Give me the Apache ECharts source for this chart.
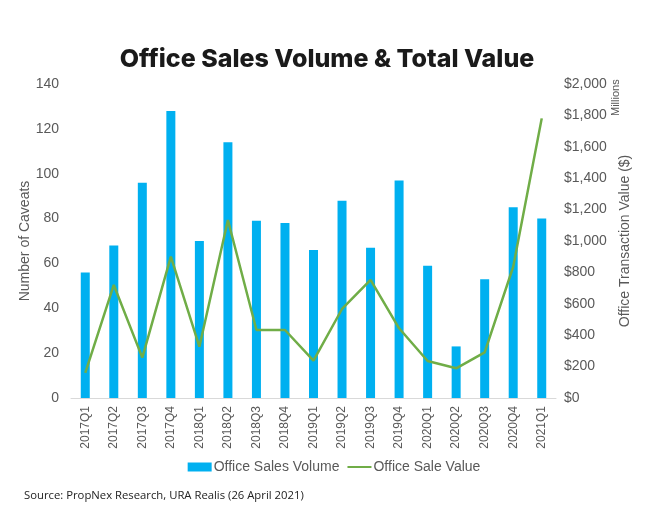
<!DOCTYPE html>
<html><head><meta charset="utf-8">
<script src="https://cdn.jsdelivr.net/npm/echarts@6/dist/echarts.min.js"></script>
<style>html,body{margin:0;padding:0;background:#fff}#c{width:668px;height:526px}</style>
</head><body><div id="c"></div>
<script>
const categories = ['2017Q1','2017Q2','2017Q3','2017Q4','2018Q1','2018Q2','2018Q3','2018Q4','2019Q1','2019Q2','2019Q3','2019Q4','2020Q1','2020Q2','2020Q3','2020Q4','2021Q1'];
const salesVolume = [56, 68, 96, 128, 70, 114, 79, 78, 66, 88, 67, 97, 59, 23, 53, 85, 80];
const saleValue = [160, 720, 257, 900, 327, 1134, 433, 433, 238, 567, 752, 444, 236, 189, 291, 836, 1781];
const leftTicks = [0, 140, 20];
const rightTicks = [0, 2000, 200];

const chart = echarts.init(document.getElementById('c'), null, {renderer: 'canvas'});
const gray = '#595959';
chart.setOption({
  animation: false,
  backgroundColor: '#fff',
  title: {
    text: 'Office Sales Volume & Total Value',
    left: 322, top: 42, textAlign: 'center',
    textStyle: {fontFamily: 'Inter', fontWeight: 800, fontSize: 25, color: '#1a1a1a'}
  },
  legend: {
    bottom: 47, left: 'center',
    itemGap: 8, itemWidth: 24, itemHeight: 9,
    textStyle: {fontFamily: 'Liberation Sans', fontSize: 14, color: gray, padding: [0,0,0,-3]},
    data: [
      {name: 'Office Sales Volume', icon: 'rect'},
      {name: 'Office Sale Value', icon: 'path://M0,4 L24,4 L24,6 L0,6 Z'}
    ]
  },
  grid: {left: 71, right: 112, top: 84, bottom: 128},
  xAxis: {
    type: 'category', data: categories,
    axisLine: {lineStyle: {color: '#d9d9d9', width: 1}},
    axisTick: {show: false},
    axisLabel: {rotate: 90, color: gray, fontFamily: 'Liberation Sans', fontSize: 12, margin: 8, interval: 0}
  },
  yAxis: [
    {
      type: 'value', min: leftTicks[0], max: leftTicks[1], interval: leftTicks[2],
      name: 'Number of Caveats', nameLocation: 'middle', nameGap: 39, nameRotate: 90,
      nameMoveOverlap: false,
      nameTextStyle: {color: gray, fontFamily: 'Liberation Sans', fontSize: 14},
      axisLine: {show: false}, axisTick: {show: false}, splitLine: {show: false},
      axisLabel: {color: gray, fontFamily: 'Liberation Sans', fontSize: 14, margin: 12}
    },
    {
      type: 'value', min: rightTicks[0], max: rightTicks[1], interval: rightTicks[2],
      name: 'Office Transaction Value ($)', nameLocation: 'middle', nameGap: 58, nameRotate: 90,
      nameTextStyle: {color: gray, fontFamily: 'Liberation Sans', fontSize: 14, verticalAlign: 'bottom'},
      axisLine: {show: false}, axisTick: {show: false}, splitLine: {show: false},
      axisLabel: {color: gray, fontFamily: 'Liberation Sans', fontSize: 14, margin: 8,
        formatter: v => '$' + v.toLocaleString('en-US')}
    }
  ],
  graphic: [
    {type: 'text', x: 610, y: 116, rotation: Math.PI/2,
      style: {text: 'Millions', fill: gray, font: '11px "Liberation Sans"', align: 'left', verticalAlign: 'top'}},
    {type: 'text', left: 24, top: 490,
      style: {text: 'Source: PropNex Research, URA Realis (26 April 2021)', fill: '#222', font: '11.3px "Open Sans"'}}
  ],
  series: [
    {name: 'Office Sales Volume', type: 'bar', data: salesVolume, yAxisIndex: 0,
      barWidth: 9, itemStyle: {color: '#00B0F0'}},
    {name: 'Office Sale Value', type: 'line', data: saleValue, yAxisIndex: 1,
      symbol: 'none', lineStyle: {color: '#70AD47', width: 2.5}, itemStyle: {color: '#70AD47'}}
  ]
});
</script></body></html>
